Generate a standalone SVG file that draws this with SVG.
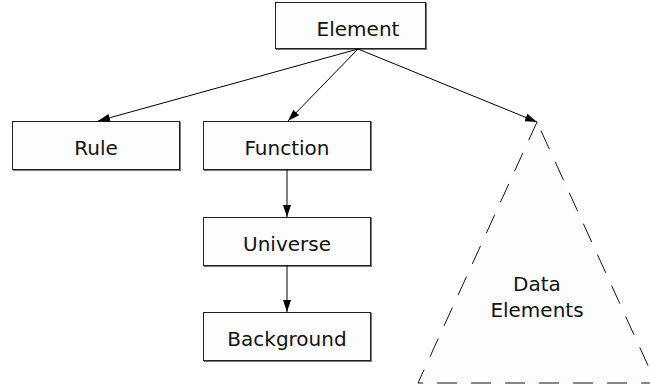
<svg xmlns="http://www.w3.org/2000/svg" width="650" height="387" viewBox="0 0 650 387">
<defs>
<marker id="ah" markerWidth="12" markerHeight="8" refX="12" refY="4" orient="auto" markerUnits="userSpaceOnUse">
<path d="M0,0 L12,4 L0,8 Z" fill="#000"/>
</marker>
</defs>
<style>
.box{fill:#fdfdfd;stroke:#222;stroke-width:1}
.sh{fill:none;stroke:#777;stroke-width:2}
.lbl{font-family:"DejaVu Sans",sans-serif;font-size:20px;fill:#111;text-anchor:middle}
.edge{stroke:#000;stroke-width:1;fill:none;marker-end:url(#ah)}
</style>
<rect width="650" height="387" fill="#fff"/>
<g id="element">
<polyline class="sh" points="426,3 426,49 276,49"/>
<rect class="box" x="275.5" y="2.5" width="150" height="46"/>
<text class="lbl" x="358" y="36">Element</text>
</g>
<g id="rule">
<polyline class="sh" points="180,122 180,170 13,170"/>
<rect class="box" x="12.5" y="121.5" width="167" height="48"/>
<text class="lbl" x="96" y="155">Rule</text>
</g>
<g id="function">
<polyline class="sh" points="371,122 371,170 204,170"/>
<rect class="box" x="203.5" y="121.5" width="167" height="48"/>
<text class="lbl" x="287" y="155">Function</text>
</g>
<g id="universe">
<polyline class="sh" points="371,218 371,266 204,266"/>
<rect class="box" x="203.5" y="217.5" width="167" height="48"/>
<text class="lbl" x="287" y="251">Universe</text>
</g>
<g id="background">
<polyline class="sh" points="371,313 371,361 204,361"/>
<rect class="box" x="203.5" y="312.5" width="167" height="48"/>
<text class="lbl" x="287" y="346">Background</text>
</g>
<g id="data-elements">
<polygon points="537,122 418,383 656,383" fill="#fdfdfd" stroke="#111" stroke-width="1" stroke-dasharray="20 14"/>
<text class="lbl" x="537" y="291">Data</text>
<text class="lbl" x="537" y="317">Elements</text>
</g>
<g id="connectors">
<line class="edge" x1="358" y1="49" x2="98" y2="121"/>
<line class="edge" x1="358" y1="49" x2="288" y2="121"/>
<line class="edge" x1="358" y1="49" x2="537" y2="122"/>
<line class="edge" x1="287" y1="170" x2="287" y2="217"/>
<line class="edge" x1="287" y1="266" x2="287" y2="312"/>
</g>
</svg>
